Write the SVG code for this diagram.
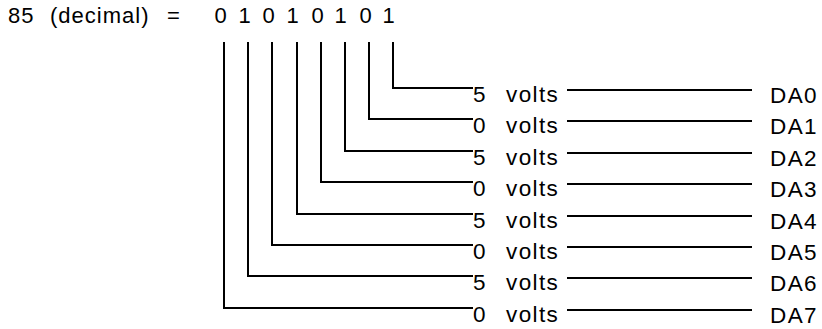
<svg xmlns="http://www.w3.org/2000/svg" width="822" height="329" viewBox="0 0 822 329">
<style>
text{font-family:"Liberation Sans",Arial,sans-serif;font-size:22px;fill:#000;letter-spacing:1px}
.r text{font-size:22.5px;letter-spacing:1.4px}
.b{text-anchor:middle}
.c path{fill:none;stroke:#000;stroke-width:2}
</style>
<rect width="822" height="329" fill="#fff"/>
<g id="header">
<text x="8" y="23">85</text>
<text x="50" y="23">(decimal)</text>
<text x="167" y="23">=</text>
</g>
<g id="bits">
<text class="b" x="221" y="23">0</text>
<text class="b" x="245" y="23">1</text>
<text class="b" x="269" y="23">0</text>
<text class="b" x="293" y="23">1</text>
<text class="b" x="318" y="23">0</text>
<text class="b" x="341" y="23">1</text>
<text class="b" x="366" y="23">0</text>
<text class="b" x="389" y="23">1</text>
</g>
<g id="connectors" class="c">
<path d="M393 42V88H473M567 90H752"/>
<path d="M369 42V119H473M567 121H752"/>
<path d="M345 42V151H473M567 153H752"/>
<path d="M321 42V182H473M567 184H752"/>
<path d="M297 42V214H473M567 216H752"/>
<path d="M272 42V245H473M567 247H752"/>
<path d="M248 42V276H473M567 278H752"/>
<path d="M224 42V308H473M567 310H752"/>
</g>
<g class="r">
<g id="row0"><text x="473" y="102">5</text><text x="506" y="102">volts</text><text x="770" y="103">DA0</text></g>
<g id="row1"><text x="473" y="133">0</text><text x="506" y="133">volts</text><text x="770" y="134">DA1</text></g>
<g id="row2"><text x="473" y="165">5</text><text x="506" y="165">volts</text><text x="770" y="166">DA2</text></g>
<g id="row3"><text x="473" y="196">0</text><text x="506" y="196">volts</text><text x="770" y="197">DA3</text></g>
<g id="row4"><text x="473" y="228">5</text><text x="506" y="228">volts</text><text x="770" y="229">DA4</text></g>
<g id="row5"><text x="473" y="259">0</text><text x="506" y="259">volts</text><text x="770" y="260">DA5</text></g>
<g id="row6"><text x="473" y="290">5</text><text x="506" y="290">volts</text><text x="770" y="291">DA6</text></g>
<g id="row7"><text x="473" y="322">0</text><text x="506" y="322">volts</text><text x="770" y="323">DA7</text></g>
</g>
</svg>
